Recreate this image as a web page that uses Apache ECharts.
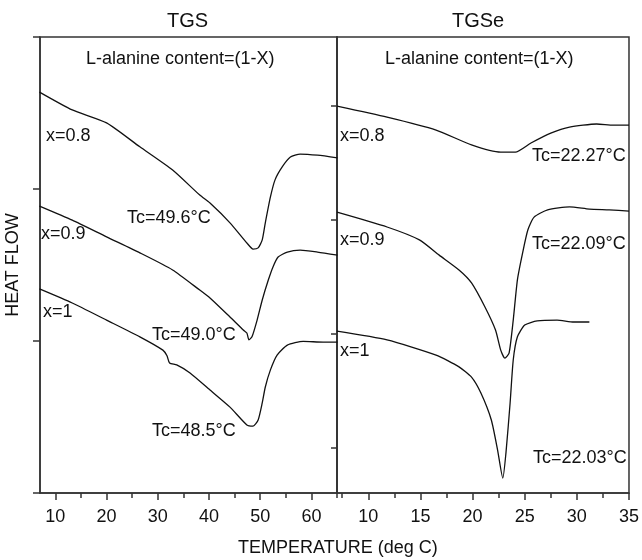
<!DOCTYPE html>
<html>
<head>
<meta charset="utf-8">
<script src="https://cdn.jsdelivr.net/npm/echarts@6/dist/echarts.min.js"></script>
<style>
  html, body { margin: 0; padding: 0; background: #fff; }
  #main { width: 642px; height: 560px; }
</style>
</head>
<body>
<div id="main"></div>
<script>
// TGS panel (temperature, heat flow in arbitrary units)
var tgs08 = [[6.9,10.55],[13.3,10.08],[20.0,9.74],[26.5,9.11],[32.9,8.50],[38.2,7.84],[40.2,7.63],[44.1,7.11],[47.4,6.58],[48.6,6.42],[49.6,6.45],[50.4,6.66],[51.0,7.11],[52.0,7.79],[52.9,8.24],[54.3,8.58],[55.9,8.84],[57.8,8.92],[61.2,8.89],[65.1,8.82]];
var tgs09 = [[6.9,7.55],[13.3,7.18],[20.0,6.74],[26.5,6.32],[32.9,5.87],[38.2,5.34],[40.2,5.13],[44.1,4.63],[46.7,4.29],[47.4,4.21],[47.8,4.03],[48.4,4.11],[49.4,4.55],[50.4,5.08],[51.6,5.61],[52.5,5.95],[53.5,6.21],[55.3,6.34],[57.8,6.39],[61.2,6.34],[65.1,6.26]];
var tgs10 = [[6.9,5.37],[13.3,5.00],[20.0,4.55],[26.5,4.11],[31.0,3.76],[31.8,3.61],[32.3,3.42],[33.7,3.37],[36.3,3.16],[40.2,2.71],[44.1,2.26],[47.4,1.79],[48.6,1.76],[49.6,1.92],[50.4,2.37],[51.0,2.79],[52.0,3.24],[53.3,3.63],[55.3,3.89],[58.4,3.99],[62.3,3.97],[65.1,3.97]];

// TGSe panel
var tgse08 = [[7.0,10.18],[11.8,9.89],[16.5,9.55],[19.9,9.16],[22.7,8.97],[24.1,8.97],[25.6,9.21],[27.5,9.47],[29.3,9.63],[31.9,9.71],[33.5,9.68],[35.0,9.68]];
var tgse09 = [[7.0,7.39],[11.8,7.00],[14.9,6.66],[16.8,6.26],[18.7,5.87],[19.9,5.53],[21.2,4.89],[22.2,4.29],[22.7,3.76],[23.1,3.55],[23.5,3.68],[23.9,4.55],[24.3,5.61],[24.8,6.32],[25.3,6.92],[25.9,7.26],[27.2,7.45],[29.3,7.53],[31.2,7.47],[33.1,7.45],[35.0,7.42]];
var tgse10 = [[7.0,4.26],[11.8,4.03],[16.5,3.63],[18.7,3.32],[19.9,3.05],[20.8,2.63],[21.8,1.92],[22.4,1.13],[22.9,0.39],[23.2,1.05],[23.6,2.37],[23.9,3.50],[24.3,4.11],[25.0,4.42],[26.2,4.53],[28.1,4.55],[29.7,4.50],[31.2,4.50]];

var tgsMajor = [10, 20, 30, 40, 50, 60];
var tgsMinor = [15, 25, 35, 45, 55, 65];
var tgseMajor = [10, 15, 20, 25, 30, 35];
var tgseMinor = [7.5, 12.5, 17.5, 22.5, 27.5, 32.5];
var flowTicksRight = [1.2, 4.2, 7.2, 10.2];

var myChart = echarts.init(document.getElementById('main'));

var axisColor = '#333';
var font18 = '18px "Liberation Sans", Arial, sans-serif';

function label(x, y, s) {
    return {
        type: 'text', left: x, top: y - 10,
        style: { text: s, font: font18, fill: '#111' }
    };
}

function majorAxis(grid, min, max, ticks) {
    return {
        type: 'value', gridIndex: grid, min: min, max: max, position: 'bottom',
        splitLine: { show: false },
        axisLine: { show: true, lineStyle: { color: axisColor, width: 1.5 } },
        axisTick: { show: true, inside: false, length: 7, customValues: ticks, lineStyle: { color: axisColor, width: 1.5 } },
        axisLabel: { customValues: ticks, margin: 15, color: '#111', fontSize: 18, fontFamily: 'Liberation Sans, Arial, sans-serif' }
    };
}
function minorAxis(grid, min, max, ticks) {
    return {
        type: 'value', gridIndex: grid, min: min, max: max, position: 'bottom',
        splitLine: { show: false },
        axisLine: { show: false },
        axisTick: { show: true, inside: false, length: 5, customValues: ticks, lineStyle: { color: axisColor, width: 1.5 } },
        axisLabel: { show: false }
    };
}

var lineStyle = { color: '#111', width: 1.3 };
function curve(xi, yi, data) {
    return {
        type: 'line', xAxisIndex: xi, yAxisIndex: yi, data: data,
        showSymbol: false, smooth: 0.2, lineStyle: lineStyle, silent: true
    };
}

var option = {
    animation: false,
    backgroundColor: '#fff',
    grid: [
        { left: 40, top: 37, width: 297, height: 456, show: true, borderColor: axisColor, borderWidth: 1.5 },
        { left: 337, top: 37, width: 296, height: 456, show: true, borderColor: axisColor, borderWidth: 1.5 }
    ],
    xAxis: [
        majorAxis(0, 7, 65, tgsMajor),
        minorAxis(0, 7, 65, tgsMinor),
        majorAxis(1, 7, 35, tgseMajor),
        minorAxis(1, 7, 35, tgseMinor)
    ],
    yAxis: [
        {
            type: 'value', gridIndex: 0, min: 0, max: 12, interval: 4,
            name: 'HEAT FLOW', nameLocation: 'middle', nameRotate: 90, nameGap: 18,
            nameTextStyle: { color: '#111', fontSize: 18, fontFamily: 'Liberation Sans, Arial, sans-serif' },
            splitLine: { show: false },
            axisLine: { show: true, lineStyle: { color: axisColor, width: 1.5 } },
            axisTick: { show: true, inside: false, length: 7, lineStyle: { color: axisColor, width: 1.5 } },
            axisLabel: { show: false }
        },
        {
            type: 'value', gridIndex: 1, min: 0, max: 12,
            splitLine: { show: false },
            axisLine: { show: true, lineStyle: { color: axisColor, width: 1.5 } },
            axisTick: { show: true, inside: false, length: 6, customValues: flowTicksRight, lineStyle: { color: axisColor, width: 1.5 } },
            axisLabel: { show: false }
        }
    ],
    series: [
        curve(0, 0, tgs08),
        curve(0, 0, tgs09),
        curve(0, 0, tgs10),
        curve(2, 1, tgse08),
        curve(2, 1, tgse09),
        curve(2, 1, tgse10)
    ],
    graphic: [
        { type: 'text', left: 167, top: 11, style: { text: 'TGS', font: '20px "Liberation Sans", Arial, sans-serif', fill: '#111' } },
        { type: 'text', left: 452, top: 11, style: { text: 'TGSe', font: '20px "Liberation Sans", Arial, sans-serif', fill: '#111' } },
        { type: 'text', left: 238, top: 539, style: { text: 'TEMPERATURE (deg C)', font: font18, fill: '#111' } },
        label(86, 60, 'L-alanine content=(1-X)'),
        label(385, 60, 'L-alanine content=(1-X)'),
        label(46, 137, 'x=0.8'),
        label(127, 219, 'Tc=49.6°C'),
        label(41, 235, 'x=0.9'),
        label(43, 313, 'x=1'),
        label(152, 336, 'Tc=49.0°C'),
        label(152, 432, 'Tc=48.5°C'),
        label(340, 137, 'x=0.8'),
        label(532, 157, 'Tc=22.27°C'),
        label(340, 241, 'x=0.9'),
        label(532, 245, 'Tc=22.09°C'),
        label(340, 352, 'x=1'),
        label(533, 459, 'Tc=22.03°C')
    ]
};

myChart.setOption(option);
window.addEventListener('resize', function () {
    myChart.resize();
});
</script>
</body>
</html>
